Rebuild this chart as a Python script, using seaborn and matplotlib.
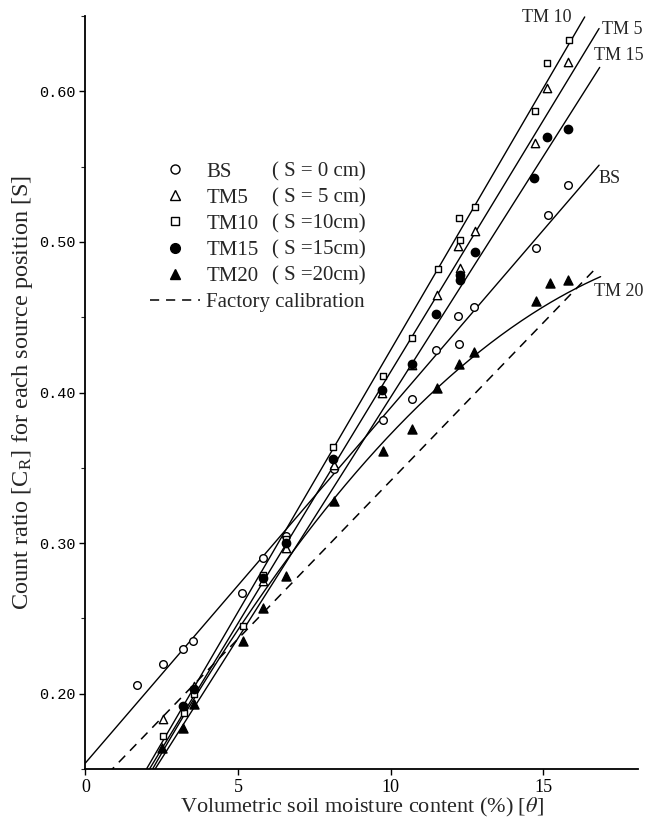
import numpy as np
import pandas as pd
import matplotlib
matplotlib.use("Agg")
import matplotlib.pyplot as plt
from matplotlib.lines import Line2D
import seaborn as sns

# ---------------- data ----------------
bs_x = [1.68, 2.53, 3.19, 3.52, 5.12, 5.81, 6.57, 8.13, 9.73, 10.68, 11.49, 12.19, 12.23, 12.74, 14.74, 15.16, 15.80]
bs_y = [0.206, 0.220, 0.2295, 0.235, 0.267, 0.290, 0.305, 0.349, 0.382, 0.396, 0.428, 0.451, 0.432, 0.457, 0.496, 0.518, 0.5375]

tm5_x = [2.53, 3.54, 5.81, 6.57, 8.13, 9.71, 10.68, 11.52, 12.19, 12.26, 12.75, 14.71, 15.10, 15.81]
tm5_y = [0.183, 0.205, 0.275, 0.297, 0.352, 0.400, 0.418, 0.465, 0.497, 0.4825, 0.5075, 0.566, 0.6025, 0.6195]

tm10_x = [2.55, 3.23, 3.56, 5.16, 5.81, 6.57, 8.11, 9.75, 10.70, 11.54, 12.23, 12.26, 12.77, 14.72, 15.10, 15.84]
tm10_y = [0.172, 0.187, 0.200, 0.245, 0.279, 0.303, 0.364, 0.411, 0.436, 0.482, 0.516, 0.501, 0.5235, 0.587, 0.619, 0.634]

tm15_x = [3.21, 3.54, 5.81, 6.57, 8.11, 9.71, 10.70, 11.49, 12.26, 12.26, 12.77, 14.69, 15.12, 15.80]
tm15_y = [0.192, 0.203, 0.277, 0.300, 0.356, 0.402, 0.419, 0.452, 0.475, 0.478, 0.4935, 0.5425, 0.5695, 0.5747]

tm20_x = [2.50, 3.21, 3.54, 5.16, 5.81, 6.57, 8.13, 9.73, 10.70, 11.52, 12.23, 12.72, 14.74, 15.21, 15.80]
tm20_y = [0.164, 0.177, 0.193, 0.235, 0.257, 0.278, 0.328, 0.361, 0.376, 0.403, 0.419, 0.427, 0.461, 0.4725, 0.475]

series_names = ["BS", "TM5", "TM10", "TM15", "TM20"]
series_desc = ["( S = 0 cm)", "( S = 5 cm)", "( S =10cm)", "( S =15cm)", "( S =20cm)"]

# calibration lines  y = c0 + c1*x + c2*x^2
line_names = ["BS", "TM5", "TM10", "TM15", "TM20", "Factory calibration"]
line_c0 = [0.154, 0.0799, 0.0804, 0.077, 0.0673, 0.1315]
line_c1 = [0.0236, 0.0334, 0.0348, 0.032, 0.0396, 0.021]
line_c2 = [0.0, 0.0, 0.0, 0.0, -0.000908, 0.0]
line_xend = [16.82, 16.82, 16.35, 16.84, 16.87, 16.78]

curve_labels = ["TM 10", "TM 5", "TM 15", "BS", "TM 20"]
curve_label_x = [14.30, 16.93, 16.64, 16.81, 16.64]
curve_label_y = [0.649, 0.6413, 0.6235, 0.5418, 0.4669]

x_ticks = [0, 5, 10, 15]
y_ticks = [0.20, 0.30, 0.40, 0.50, 0.60]

# ---------------- styling ----------------
sns.set_style("ticks")
plt.rcParams["font.family"] = ["Liberation Serif", "DejaVu Serif"]
plt.rcParams["mathtext.fontset"] = "stix"

fig = plt.figure(figsize=(6.45, 8.21), dpi=100)
ax = fig.add_axes([0.1324, 0.0633, 0.857, 0.9172])

series = [(bs_x, bs_y, "o", "white", 5.5),
          (tm5_x, tm5_y, "^", "white", 6.0),
          (tm10_x, tm10_y, "s", "white", 5.0),
          (tm15_x, tm15_y, "o", "black", 6.0),
          (tm20_x, tm20_y, "^", "black", 6.5)]

for name, (xs, ys, mk, fc, ms) in zip(series_names, series):
    df = pd.DataFrame({"x": xs, "y": ys})
    sns.scatterplot(data=df, x="x", y="y", ax=ax, marker=mk, s=ms ** 2,
                    facecolor=fc, edgecolor="black", linewidth=1.0,
                    zorder=3, legend=False)

for name, c0, c1, c2, xe in zip(line_names, line_c0, line_c1, line_c2, line_xend):
    xx = np.linspace(0, xe, 300)
    yy = c0 + c1 * xx + c2 * xx ** 2
    ldf = pd.DataFrame({"x": xx, "y": yy})
    if name.startswith("Factory"):
        sns.lineplot(data=ldf, x="x", y="y", ax=ax, color="black", lw=1.1,
                     dashes=False, linestyle=(0, (6, 4.5)), zorder=2)
    else:
        sns.lineplot(data=ldf, x="x", y="y", ax=ax, color="black", lw=1.0, zorder=2)

for t, lx, ly in zip(curve_labels, curve_label_x, curve_label_y):
    ax.text(lx, ly, t, fontsize=13, ha="left", va="center", clip_on=False)

ax.set_xlim(0, 18.1)
ax.set_ylim(0.15, 0.65)
ax.set_xticks(x_ticks)
ax.set_xticklabels([str(v) for v in x_ticks], fontsize=13)
ax.set_yticks(y_ticks)
ax.set_yticklabels([f"{v:.2f}" for v in y_ticks], fontsize=11, family="Liberation Mono")
ax.set_yticks(np.arange(0.15, 0.651, 0.05), minor=True)
ax.tick_params(axis="both", which="major", direction="out", length=4, width=1.0,
               colors="black", pad=3)
ax.tick_params(axis="y", which="minor", direction="out", length=3, width=0.8)
sns.despine(ax=ax, top=True, right=True)
for s in ["left", "bottom"]:
    ax.spines[s].set_linewidth(1.3)
    ax.spines[s].set_color("black")

ax.set_xlabel(r"Volumetric soil moisture content (%) [$\theta$]", fontsize=16, labelpad=0)
ax.set_ylabel(r"Count ratio [C$_\mathregular{R}$] for each source position [S]", fontsize=17.5, labelpad=3)

# legend: markers + names, then description column
handles = []
for (xs, ys, mk, fc, ms) in series:
    handles.append(Line2D([], [], ls="none", marker=mk, markersize=ms + 1,
                          markerfacecolor=fc, markeredgecolor="black", markeredgewidth=1.0))
handles.append(Line2D([], [], color="black", lw=1.1, ls=(0, (6, 4.5))))
labels = series_names + ["Factory calibration"]
leg1 = ax.legend(handles, labels, loc="upper left", bbox_to_anchor=(0.117, 0.806),
                 frameon=False, fontsize=15, handlelength=2.4, handletextpad=0.3,
                 labelspacing=0.31, borderpad=0, borderaxespad=0)
ax.add_artist(leg1)
blank = [Line2D([], [], ls="none") for _ in series_desc]
leg2 = ax.legend(blank, series_desc, loc="upper left", bbox_to_anchor=(0.338, 0.806),
                 frameon=False, fontsize=15, handlelength=0, handletextpad=0,
                 labelspacing=0.31, borderpad=0, borderaxespad=0)

fig.savefig("out.png", dpi=100)
